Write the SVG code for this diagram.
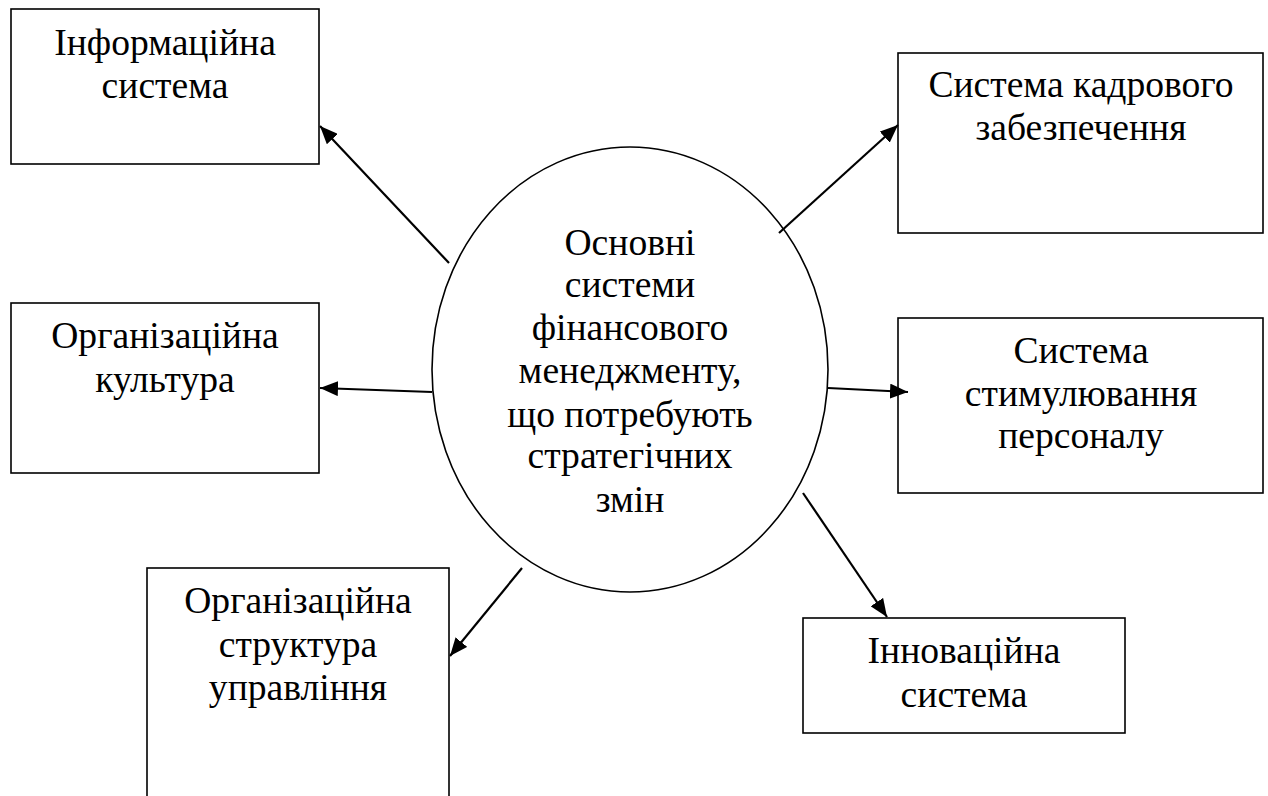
<svg xmlns="http://www.w3.org/2000/svg" width="1268" height="796" viewBox="0 0 1268 796">
<style>
.box{fill:#fff;stroke:#000;stroke-width:1.6}
.t{font-family:"Liberation Serif","Times New Roman","DejaVu Serif",serif;font-size:37.6px;fill:#000;text-anchor:middle}
.c{stroke:#000;stroke-width:2.2;fill:none;marker-end:url(#ah)}
</style>
<defs>
<marker id="ah" markerUnits="userSpaceOnUse" markerWidth="19" markerHeight="15" refX="18" refY="7.5" orient="auto">
<path d="M0,0 L18,7.5 L0,15 Z" fill="#000"/>
</marker>
</defs>
<rect width="1268" height="796" fill="#fff"/>
<g id="n-info">
<rect class="box" x="11" y="9" width="308" height="155"/>
<text class="t" x="165" y="55">Інформаційна</text>
<text class="t" x="165" y="98">система</text>
</g>
<g id="n-kadry">
<rect class="box" x="898" y="53" width="365" height="180"/>
<text class="t" x="1081" y="97">Система кадрового</text>
<text class="t" x="1081" y="140">забезпечення</text>
</g>
<g id="n-kultura">
<rect class="box" x="11" y="303" width="308" height="170"/>
<text class="t" x="165" y="348">Організаційна</text>
<text class="t" x="165" y="392">культура</text>
</g>
<g id="n-stymul">
<rect class="box" x="898" y="318" width="365" height="175"/>
<text class="t" x="1081" y="363">Система</text>
<text class="t" x="1081" y="406">стимулювання</text>
<text class="t" x="1081" y="448">персоналу</text>
</g>
<g id="n-struktura">
<rect class="box" x="147" y="568" width="302" height="240"/>
<text class="t" x="298" y="613">Організаційна</text>
<text class="t" x="298" y="657">структура</text>
<text class="t" x="298" y="700">управління</text>
</g>
<g id="n-innov">
<rect class="box" x="803" y="618" width="322" height="115"/>
<text class="t" x="964" y="663">Інноваційна</text>
<text class="t" x="964" y="707">система</text>
</g>
<g id="n-center">
<ellipse class="box" cx="630" cy="369.5" rx="198" ry="222.5"/>
<text class="t" x="630" y="255">Основні</text>
<text class="t" x="630" y="297">системи</text>
<text class="t" x="630" y="340">фінансового</text>
<text class="t" x="630" y="383">менеджменту,</text>
<text class="t" x="630" y="427">що потребують</text>
<text class="t" x="630" y="468">стратегічних</text>
<text class="t" x="630" y="512">змін</text>
</g>
<g id="connectors">
<line class="c" x1="449" y1="263" x2="320" y2="126"/>
<line class="c" x1="779" y1="233" x2="898" y2="125"/>
<line class="c" x1="432" y1="392" x2="320" y2="388"/>
<line class="c" x1="828" y1="388" x2="908" y2="392"/>
<line class="c" x1="522" y1="568" x2="450" y2="656"/>
<line class="c" x1="803" y1="493" x2="887" y2="617"/>
</g>
</svg>
